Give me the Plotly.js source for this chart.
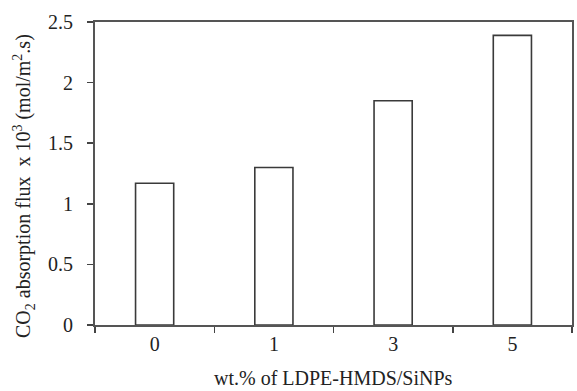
<!DOCTYPE html>
<html>
<head>
<meta charset="utf-8">
<script src="https://cdn.plot.ly/plotly-3.0.1.min.js"></script>
<style>html,body{margin:0;padding:0;background:#fff;}</style>
</head>
<body>
<div id="chart" style="width:577px;height:391px;"></div>
<script>
const categories = ["0", "1", "3", "5"];
const fluxValues = [1.17, 1.30, 1.85, 2.39];
const yTickValues = [0, 0.5, 1, 1.5, 2, 2.5];
const yTickLabels = ["0", "0.5", "1", "1.5", "2", "2.5"];

const fontFam = '"Liberation Serif", "Times New Roman", serif';

const trace = {
  type: 'bar',
  x: categories,
  y: fluxValues,
  width: 0.32,
  marker: { color: '#ffffff', line: { color: '#3a3a3a', width: 1.6 } },
  hoverinfo: 'skip'
};

const layout = {
  width: 577,
  height: 391,
  margin: { l: 95, r: 5, t: 22, b: 66 },
  paper_bgcolor: '#ffffff',
  plot_bgcolor: '#ffffff',
  showlegend: false,
  font: { family: fontFam, size: 20, color: '#222' },
  xaxis: {
    type: 'category',
    tickson: 'boundaries',
    ticks: 'outside',
    ticklen: 6,
    tickwidth: 1.5,
    tickcolor: '#444',
    showline: true,
    linecolor: '#555',
    linewidth: 2,
    mirror: true,
    showgrid: false,
    zeroline: false,
    tickfont: { family: fontFam, size: 20, color: '#222' }
  },
  yaxis: {
    range: [0, 2.5],
    tickvals: yTickValues,
    ticktext: yTickLabels,
    ticks: 'outside',
    ticklen: 6,
    tickwidth: 1.5,
    tickcolor: '#444',
    ticklabelstandoff: 10,
    showline: true,
    linecolor: '#555',
    linewidth: 2,
    mirror: true,
    showgrid: false,
    zeroline: false,
    tickfont: { family: fontFam, size: 20, color: '#222' }
  },
  annotations: [
    {
      text: 'wt.% of LDPE-HMDS/SiNPs',
      xref: 'paper', yref: 'paper',
      x: 0.5, y: (391 - 66 - 378) / (391 - 22 - 66),
      showarrow: false,
      xanchor: 'center', yanchor: 'middle',
      font: { family: fontFam, size: 20, color: '#222' }
    },
    {
      text: 'CO<sub>2</sub> absorption flux  x 10<sup>3</sup> (mol/m<sup>2</sup>.s)',
      xref: 'paper', yref: 'paper',
      x: (24 - 95) / (577 - 95 - 5), y: (391 - 66 - 186) / (391 - 22 - 66),
      textangle: -90,
      showarrow: false,
      xanchor: 'center', yanchor: 'middle',
      font: { family: fontFam, size: 20, color: '#222' }
    }
  ]
};

Plotly.newPlot('chart', [trace], layout, { displayModeBar: false, staticPlot: true });
</script>
</body>
</html>
